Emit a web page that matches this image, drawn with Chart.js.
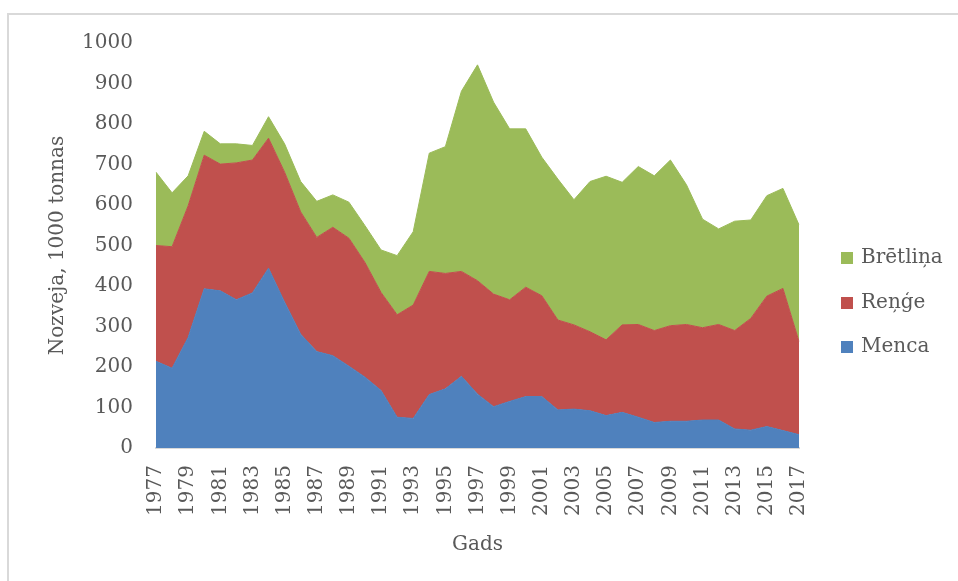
<!DOCTYPE html>
<html>
<head>
<meta charset="utf-8">
<script src="https://cdn.jsdelivr.net/npm/chart.js@4.4.0/dist/chart.umd.min.js"></script>
<style>
  body { margin: 0; background: #fff; overflow: hidden; }
  #wrap { position: relative; width: 958px; height: 581px; }
  #frame { position: absolute; left: 7px; top: 13px; width: 1000px; height: 600px;
           border-top: 2px solid #d9d9d9; border-left: 2px solid #d9d9d9; }
  #chart { position: absolute; left: 0; top: 0; }
</style>
</head>
<body>
<div id="wrap">
  <div id="frame"></div>
  <canvas id="chart" width="958" height="581"></canvas>
</div>
<script>
// Gadi
const years = [];
for (let y = 1977; y <= 2017; y++) years.push(String(y));

// Nozveja, 1000 tonnas
const menca = [214, 197, 273, 393, 388, 366, 383, 444, 360, 281, 238, 228, 202, 175, 142,
  76, 73, 132, 146, 177, 133, 102, 115, 127, 127, 94, 96, 92, 80, 88,
  76, 63, 66, 66, 69, 69, 47, 44, 53, 43, 33];
const renge = [286, 300, 325, 330, 313, 338, 328, 321, 321, 302, 282, 317, 316, 283, 242,
  253, 280, 304, 285, 259, 280, 278, 251, 270, 249, 222, 208, 195, 187, 216,
  229, 227, 236, 239, 228, 236, 243, 276, 322, 351, 230];
const bretlina = [181, 133, 74, 59, 50, 47, 36, 53, 70, 75, 89, 80, 89, 91, 105,
  146, 181, 292, 313, 445, 533, 474, 422, 391, 342, 348, 309, 371, 404, 352,
  390, 382, 409, 345, 268, 236, 270, 243, 248, 247, 288];

const seriesNames = ['Menca', 'Reņģe', 'Brētliņa'];
const seriesColors = ['#4f81bd', '#c0504d', '#9bbb59'];
const yTicks = [0, 100, 200, 300, 400, 500, 600, 700, 800, 900, 1000];

const fontFamily = 'DejaVu Serif';
const textColor = '#595959';

// legenda labajā pusē, Brētliņa augšā
const sideLegend = {
  id: 'sideLegend',
  afterDraw(chart) {
    const ctx = chart.ctx;
    const rows = [258, 303, 347];
    const items = chart.data.datasets.slice().reverse();
    ctx.save();
    ctx.font = '20px "' + fontFamily + '"';
    ctx.textBaseline = 'middle';
    items.forEach((ds, i) => {
      ctx.fillStyle = ds.backgroundColor;
      ctx.fillRect(841, rows[i] - 6, 12, 12);
      ctx.fillStyle = textColor;
      ctx.fillText(ds.label, 861, rows[i]);
    });
    ctx.restore();
  }
};

const datasets = [menca, renge, bretlina].map((vals, i) => ({
  label: seriesNames[i],
  data: vals,
  backgroundColor: seriesColors[i],
  borderColor: seriesColors[i],
  borderWidth: 1,
  pointRadius: 0,
  tension: 0,
  fill: i === 0 ? 'origin' : '-1'
}));

new Chart(document.getElementById('chart'), {
  type: 'line',
  data: { labels: years, datasets: datasets },
  options: {
    responsive: false,
    animation: false,
    layout: { padding: { top: 43, right: 159, left: 0, bottom: 0 } },
    plugins: {
      legend: { display: false },
      tooltip: { enabled: false }
    },
    scales: {
      x: {
        offset: false,
        grid: { display: false, drawTicks: false },
        border: { display: true, color: '#d9d9d9', width: 2 },
        ticks: {
          autoSkip: false,
          maxRotation: 90,
          minRotation: 90,
          padding: 17,
          color: textColor,
          font: { family: fontFamily, size: 20 },
          callback: function (val, i) { return i % 2 === 0 ? this.getLabelForValue(val) : ''; }
        },
        title: {
          display: true,
          text: 'Gads',
          color: textColor,
          font: { family: fontFamily, size: 20 },
          padding: { top: 4, bottom: 24 }
        },
        afterFit: s => { s.height = 133; }
      },
      y: {
        stacked: true,
        min: 0,
        max: 1000,
        afterBuildTicks: s => { s.ticks = yTicks.map(v => ({ value: v })); },
        grid: { display: false, drawTicks: false },
        border: { display: false },
        ticks: {
          padding: 23,
          color: textColor,
          font: { family: fontFamily, size: 20 },
          callback: v => String(v)
        },
        title: {
          display: true,
          text: 'Nozveja, 1000 tonnas',
          color: textColor,
          font: { family: fontFamily, size: 20 },
          padding: { top: 46, bottom: 4 }
        },
        afterFit: s => { s.width = 156; }
      }
    }
  },
  plugins: [sideLegend]
});
</script>
</body>
</html>
